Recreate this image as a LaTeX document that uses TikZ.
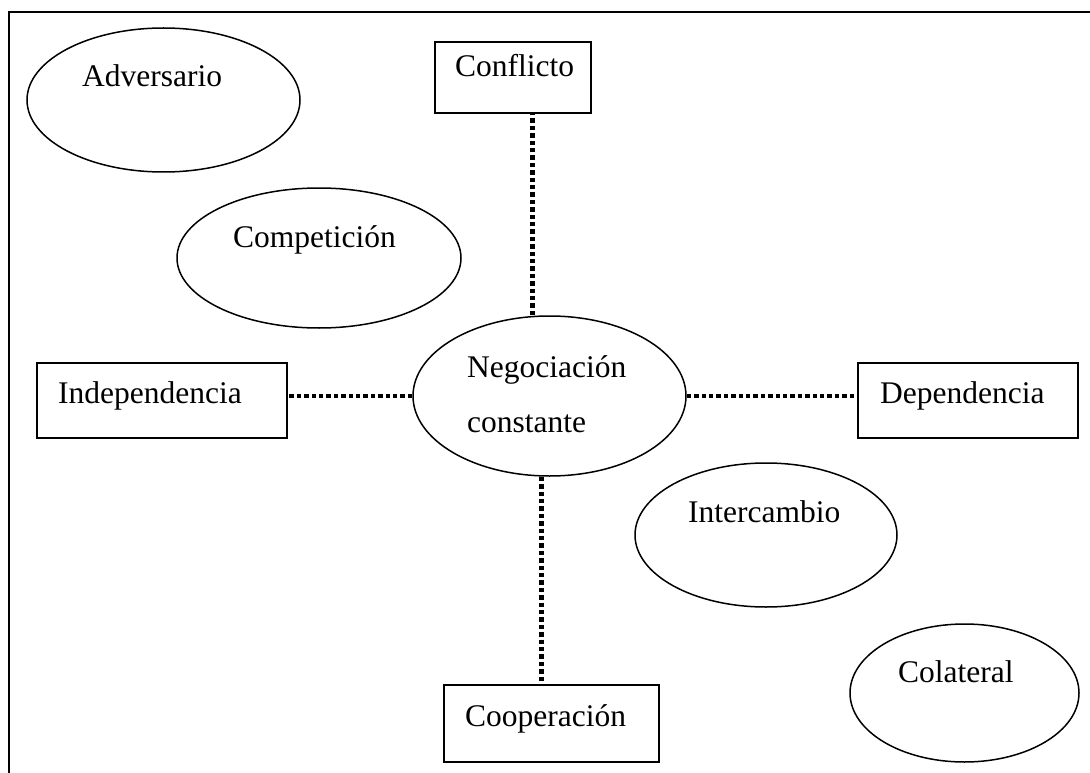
\documentclass[tikz,border=0pt]{standalone}
\usepackage{fontspec}
\setmainfont{Liberation Serif}
\usetikzlibrary{shapes.geometric}
\begin{document}
\begin{tikzpicture}[x=1pt,y=-1pt,
  oval/.style={draw,ellipse,line width=1.5pt,inner sep=0pt},
  box/.style={draw,rectangle,line width=1.5pt,inner sep=0pt},
  lbl/.style={anchor=base west,inner sep=0pt,font=\fontsize{31.5}{38}\selectfont},
  link/.style={line width=4.4pt,dash pattern=on 4.4pt off 3pt}]
\useasboundingbox (0,0) rectangle (1090,773);
% frame (top and left edges visible)
\coordinate (ftr) at (1092,12);
\coordinate (ftl) at (9,12);
\coordinate (fbl) at (9,775);
\draw[line width=1.8pt] (ftr) -- (ftl) -- (fbl);
% ellipses
\node[oval,minimum width=273pt,minimum height=144pt] (adv) at (163.5,100) {};
\node[oval,minimum width=284pt,minimum height=140pt] (comp) at (319,258) {};
\node[oval,minimum width=273pt,minimum height=160pt] (neg) at (549.5,396) {};
\node[oval,minimum width=262pt,minimum height=144pt] (inter) at (766,535) {};
\node[oval,minimum width=229pt,minimum height=138pt] (col) at (964.5,693) {};
% boxes
\node[box,minimum width=156pt,minimum height=71pt] (conf) at (513,77.5) {};
\node[box,minimum width=250pt,minimum height=75pt] (indep) at (162,400.5) {};
\node[box,minimum width=220pt,minimum height=75pt] (dep) at (968,400.5) {};
\node[box,minimum width=215pt,minimum height=77pt] (coop) at (551.5,723.5) {};
% labels
\node[lbl] (advt) at (82,87) {Adversario};
\node[lbl] (conft) at (455,77) {Conflicto};
\node[lbl] (compt) at (233,247) {Competición};
\node[lbl] (negt1) at (467,377) {Negociación};
\node[lbl] (negt2) at (467,432) {constante};
\node[lbl] (indept) at (58,403) {Independencia};
\node[lbl] (dept) at (880,403) {Dependencia};
\node[lbl] (intert) at (688,522) {Intercambio};
\node[lbl] (coopt) at (465,726) {Cooperación};
\node[lbl] (colt) at (898,682) {Colateral};
% connectors
\draw[link] ([xshift=-17pt]neg.north) -- ([xshift=-17pt]neg.north |- conf.south);
\draw[link] ([xshift=-8pt]neg.south) -- ([xshift=-8pt]neg.south |- coop.north);
\draw[link] (neg.west) -- (neg.west -| indep.east);
\draw[link] (neg.east) -- (neg.east -| dep.west);
\end{tikzpicture}
\end{document}
